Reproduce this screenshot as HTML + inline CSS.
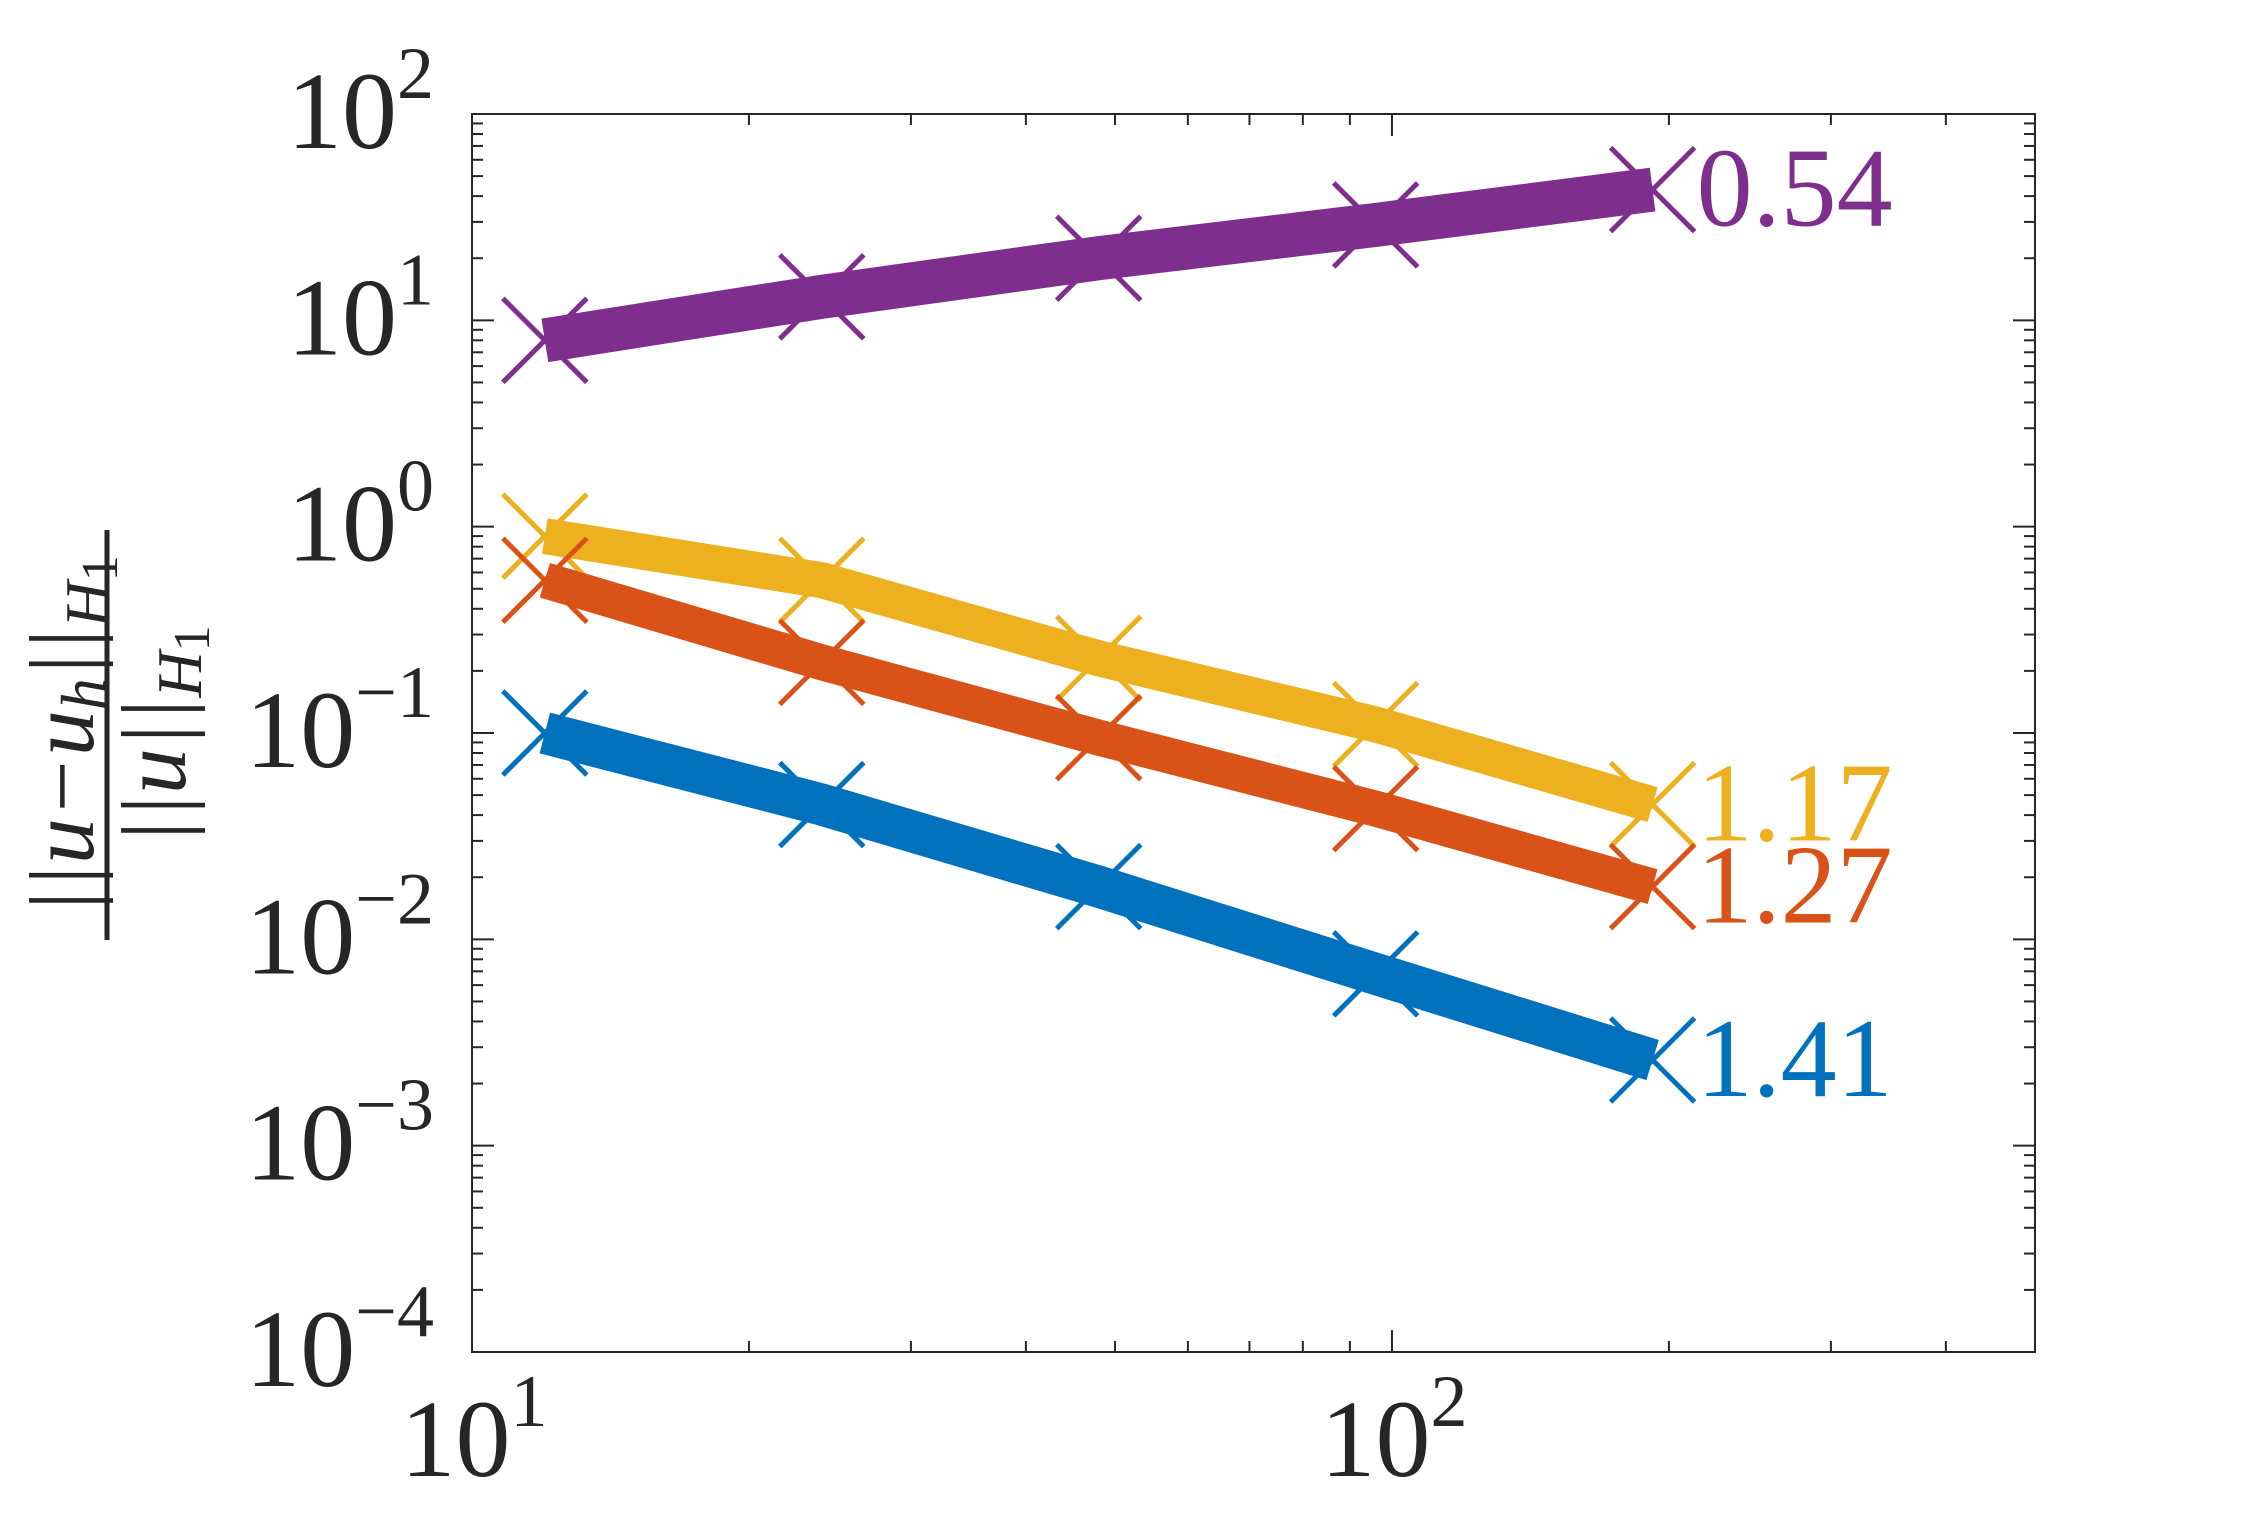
<!DOCTYPE html>
<html><head><meta charset="utf-8"><style>
html,body{margin:0;padding:0;background:#fff;}
svg{display:block;font-family:"Liberation Serif",serif;}
</style></head><body>
<svg id="chart" width="2250" height="1520" viewBox="0 0 2250 1520" xmlns="http://www.w3.org/2000/svg">
<g id="marks"></g>
<g id="axes"></g>
<g transform="translate(105,735) rotate(-90)" fill="#262626" font-style="italic">
  <text x="0" y="-12" text-anchor="middle" font-size="92">||u−u<tspan font-size="64" dy="12">h</tspan><tspan dy="-12">||</tspan><tspan font-size="64" dy="16">H</tspan><tspan font-size="52" font-style="normal" dy="8">1</tspan></text>
  <line x1="-205" y1="2" x2="205" y2="2" stroke="#262626" stroke-width="5"/>
  <text x="0" y="80" text-anchor="middle" font-size="92">||u||<tspan font-size="64" dy="16">H</tspan><tspan font-size="52" font-style="normal" dy="8">1</tspan></text>
</g>
</svg>
<script>
const xValues = [12, 24, 48, 96, 192];
const seriesPurple = [8, 13, 20, 29, 43];
const seriesYellow = [0.9, 0.55, 0.23, 0.11, 0.045];
const seriesOrange = [0.55, 0.22, 0.095, 0.043, 0.018];
const seriesBlue = [0.1, 0.045, 0.018, 0.0068, 0.0026];
const rateLabels = ["0.54", "1.17", "1.27", "1.41"];
const yTickExps = [2, 1, 0, -1, -2, -3, -4];
const xTickExps = [1, 2];

const L=472,R=2035,T=114,B=1352;
const xmin=Math.log10(10), xmax=Math.log10(500), ymin=-4, ymax=2;
function sx(v){return L+(Math.log10(v)-xmin)/(xmax-xmin)*(R-L);}
function sy(v){return B-(Math.log10(v)-ymin)/(ymax-ymin)*(B-T);}
const NS="http://www.w3.org/2000/svg";
function mk(tag,attrs,parent){const e=document.createElementNS(NS,tag);for(const k in attrs)e.setAttribute(k,attrs[k]);parent.appendChild(e);return e;}
const axes=document.getElementById('axes'), marks=document.getElementById('marks');

const series=[
 {name:'purple',vals:seriesPurple,color:'#7E2F8E',label:rateLabels[0],w:44},
 {name:'yellow',vals:seriesYellow,color:'#EDB120',label:rateLabels[1],w:36},
 {name:'orange',vals:seriesOrange,color:'#D95319',label:rateLabels[2],w:36},
 {name:'blue',vals:seriesBlue,color:'#0072BD',label:rateLabels[3],w:42}
];
series.forEach(s=>{
  const g=mk('g',{},marks);
  
  
  xValues.forEach((x,i)=>{
    const cx=sx(x), cy=sy(s.vals[i]), h=42;
    const p=mk('path',{d:`M${cx-h},${cy-h}L${cx+h},${cy+h}M${cx-h},${cy+h}L${cx+h},${cy-h}`,stroke:s.color,'stroke-width':5,fill:'none'},g);
    
    
  });
  const pts=xValues.map((x,i)=>sx(x)+','+sy(s.vals[i])).join(' ');
  const pl=mk('polyline',{points:pts,stroke:s.color,'stroke-width':s.w,fill:'none','stroke-linejoin':'miter','stroke-linecap':'butt'},g);
  
  
  const last=xValues.length-1;
  const t=mk('text',{x:sx(xValues[last])+44,y:sy(s.vals[last])+36,fill:s.color,'font-size':112},g);
  t.textContent=s.label;
  
  
});

const box=mk('rect',{x:L,y:T,width:R-L,height:B-T,fill:'none',stroke:'#262626','stroke-width':2},axes);


for(let e=ymin;e<=ymax;e++){
  for(let m=1;m<10;m++){
    const v=m*Math.pow(10,e); if(Math.log10(v)>ymax+1e-9)break;
    const y=sy(v), len=m===1?22:11;
    mk('line',{x1:L,y1:y,x2:L+len,y2:y,stroke:'#262626','stroke-width':2},axes);
    mk('line',{x1:R,y1:y,x2:R-len,y2:y,stroke:'#262626','stroke-width':2},axes);
  }
}
yTickExps.forEach(e=>{
  const t=mk('text',{x:L-38,y:sy(Math.pow(10,e))+34,'text-anchor':'end',fill:'#262626','font-size':110},axes);
  t.innerHTML='10<tspan font-size="74" dy="-50">'+(e<0?'−'+(-e):e)+'</tspan>';
  
  
});
for(let e=1;e<=2;e++){
  for(let m=1;m<10;m++){
    const v=m*Math.pow(10,e); if(Math.log10(v)>xmax+1e-9)break;
    const x=sx(v), len=m===1?22:11;
    mk('line',{x1:x,y1:B,x2:x,y2:B-len,stroke:'#262626','stroke-width':2},axes);
    mk('line',{x1:x,y1:T,x2:x,y2:T+len,stroke:'#262626','stroke-width':2},axes);
  }
}
xTickExps.forEach(e=>{
  const t=mk('text',{x:sx(Math.pow(10,e))+2,y:B+124,'text-anchor':'middle',fill:'#262626','font-size':110},axes);
  t.innerHTML='10<tspan font-size="74" dy="-50">'+e+'</tspan>';
  
  
});
</script>
</body></html>
